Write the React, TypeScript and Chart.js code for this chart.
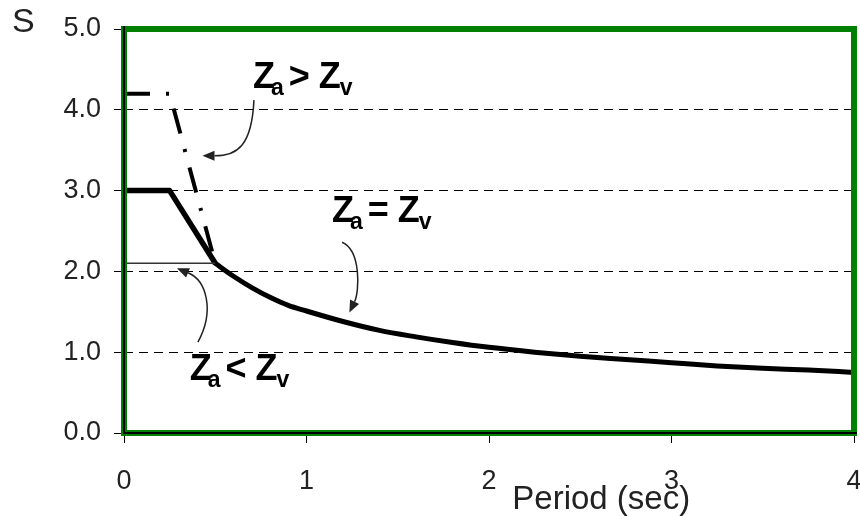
import React, { useEffect, useRef } from "react";
import { Chart, registerables } from "chart.js";
Chart.register(...registerables);

// ---- data ----
const xTickValues = [0, 1, 2, 3, 4];
const yTickValues = [0, 1, 2, 3, 4, 5];
const rampT = [0, 0.25, 0.5];
const rampEqual = [3.0, 3.0, 2.1];
const rampHigh = [4.2, 4.2, 2.1];
const lowT = [0, 0.5];
const lowS = [2.1, 2.1];
const curveT = [0.5, 0.6, 0.7, 0.8, 0.9, 1.0, 1.2, 1.4, 1.6, 1.8, 2.0, 2.25, 2.5, 2.75, 3.0, 3.25, 3.5, 3.75, 4.0];
const curveS = [2.1, 1.94, 1.8, 1.68, 1.58, 1.51, 1.38, 1.27, 1.19, 1.12, 1.06, 1.0, 0.95, 0.91, 0.87, 0.83, 0.8, 0.78, 0.75];

const yAxisLabel = "S";
const xAxisLabel = "Period (sec)";

// annotation labels: [main, sub1, op, main2, sub2], anchor in data units
const annotations = [
  { parts: ["Z", "a", ">", "Z", "v"], at: [0.707, 4.27] },
  { parts: ["Z", "a", "=", "Z", "v"], at: [1.14, 2.61] },
  { parts: ["Z", "a", "<", "Z", "v"], at: [0.36, 0.656] },
];
// arrows: start, control1, control2, tip (data units)
const arrows = [
  [[0.712, 4.12], [0.7, 3.55], [0.62, 3.43], [0.43, 3.43]],
  [[1.195, 2.36], [1.3, 2.26], [1.29, 1.75], [1.235, 1.49]],
  [[0.405, 1.126], [0.5, 1.52], [0.45, 1.89], [0.29, 2.04]],
];

const FONT = '"Liberation Sans", Arial, sans-serif';

const pts = (xs: number[], ys: number[]) => xs.map((x, i) => ({ x, y: ys[i] }));

const decor = {
  id: "decor",
  afterDatasetsDraw(chart: any) {
    const { ctx, chartArea: a, scales } = chart;
    const xs = scales.x, ys = scales.y;
    ctx.save();
    // frame
    ctx.strokeStyle = "#008000";
    ctx.lineWidth = 6;
    ctx.strokeRect(a.left, a.top, a.right - a.left, a.bottom - a.top);
    ctx.strokeStyle = "#000";
    ctx.lineWidth = 2;
    ctx.beginPath();
    ctx.moveTo(a.left, a.top - 3);
    ctx.lineTo(a.left, a.bottom);
    ctx.lineTo(a.right + 3, a.bottom);
    ctx.stroke();

    // annotation text
    ctx.fillStyle = "#000";
    ctx.textBaseline = "alphabetic";
    ctx.textAlign = "left";
    const big = "bold 36px " + FONT;
    const small = "bold 23px " + FONT;
    for (const an of annotations) {
      let x = xs.getPixelForValue(an.at[0]);
      const y = ys.getPixelForValue(an.at[1]);
      const [m1, s1, op, m2, s2] = an.parts;
      ctx.font = big;
      ctx.fillText(m1, x, y);
      x += ctx.measureText(m1).width - 4;
      ctx.font = small;
      ctx.fillText(s1, x, y + 7);
      x += ctx.measureText(s1).width + 5;
      ctx.font = big;
      ctx.fillText(op, x, y);
      x += ctx.measureText(op).width + 9;
      ctx.fillText(m2, x, y);
      x += ctx.measureText(m2).width - 1;
      ctx.font = small;
      ctx.fillText(s2, x, y + 7);
    }

    // arrows
    ctx.strokeStyle = "#222";
    ctx.fillStyle = "#222";
    ctx.lineWidth = 1.5;
    for (const ar of arrows) {
      const p = ar.map(([vx, vy]) => [xs.getPixelForValue(vx), ys.getPixelForValue(vy)]);
      const [s, c1, c2, t] = p;
      const ang = Math.atan2(t[1] - c2[1], t[0] - c2[0]);
      const L = 12, W = 5;
      const bx = t[0] - L * Math.cos(ang), by = t[1] - L * Math.sin(ang);
      ctx.beginPath();
      ctx.moveTo(s[0], s[1]);
      ctx.bezierCurveTo(c1[0], c1[1], c2[0], c2[1], bx, by);
      ctx.stroke();
      ctx.beginPath();
      ctx.moveTo(t[0], t[1]);
      ctx.lineTo(bx + W * Math.sin(ang), by - W * Math.cos(ang));
      ctx.lineTo(bx - W * Math.sin(ang), by + W * Math.cos(ang));
      ctx.closePath();
      ctx.fill();
    }

    // axis labels
    ctx.fillStyle = "#222";
    ctx.font = "34px " + FONT;
    ctx.textAlign = "left";
    ctx.fillText(yAxisLabel, a.left - 112, a.top + 3);
    ctx.font = "33px " + FONT;
    ctx.textAlign = "center";
    ctx.fillText(xAxisLabel, xs.getPixelForValue(2.615), a.bottom + 76);
    ctx.restore();
  },
};

export default function App() {
  const ref = useRef<HTMLCanvasElement>(null);
  useEffect(() => {
    if (!ref.current) return;
    const chart = new Chart(ref.current, {
      type: "scatter",
      data: {
        datasets: [
          {
            data: pts(lowT, lowS),
            showLine: true,
            borderColor: "#333",
            borderWidth: 1.5,
            pointRadius: 0,
          },
          {
            data: pts(rampT, rampHigh),
            showLine: true,
            borderColor: "#000",
            borderWidth: 4,
            borderDash: [26, 16, 3, 16],
            pointRadius: 0,
          },
          {
            data: pts(rampT, rampEqual),
            showLine: true,
            borderColor: "#000",
            borderWidth: 5.5,
            borderJoinStyle: "round",
            pointRadius: 0,
          },
          {
            data: pts(curveT, curveS),
            showLine: true,
            borderColor: "#000",
            borderWidth: 5,
            cubicInterpolationMode: "monotone",
            borderCapStyle: "round",
            pointRadius: 0,
          },
        ],
      },
      options: {
        responsive: false,
        animation: false,
        layout: { padding: { top: 29, right: 6, left: 0, bottom: 0 } },
        plugins: { legend: { display: false }, tooltip: { enabled: false } },
        scales: {
          x: {
            type: "linear",
            min: 0,
            max: 4,
            afterBuildTicks: (s: any) => { s.ticks = xTickValues.map((v) => ({ value: v })); },
            afterFit: (s: any) => { s.height = 83; s.paddingLeft = 0; s.paddingRight = 0; },
            ticks: { font: { family: FONT, size: 27 }, color: "#222", padding: 22, maxRotation: 0, callback: (v: any) => String(v) },
            grid: { drawOnChartArea: false, color: "#000", tickLength: 10, lineWidth: 1 },
            border: { display: false },
          },
          y: {
            type: "linear",
            min: 0,
            max: 5,
            afterBuildTicks: (s: any) => { s.ticks = yTickValues.map((v) => ({ value: v })); },
            afterFit: (s: any) => { s.width = 124; s.paddingTop = 0; s.paddingBottom = 0; },
            ticks: { font: { family: FONT, size: 27 }, color: "#222", padding: 13, callback: (v: any) => Number(v).toFixed(1) },
            grid: { color: "#000", lineWidth: 1, tickLength: 10, tickBorderDash: [] },
            border: { display: false, dash: [9, 6] },
          },
        },
      },
      plugins: [decor],
    } as any);
    return () => chart.destroy();
  }, []);
  return (
    <div style={{ position: "fixed", left: 0, top: 0, width: 860, height: 516, background: "#fff" }}>
      <canvas ref={ref} width={860} height={516} />
    </div>
  );
}
